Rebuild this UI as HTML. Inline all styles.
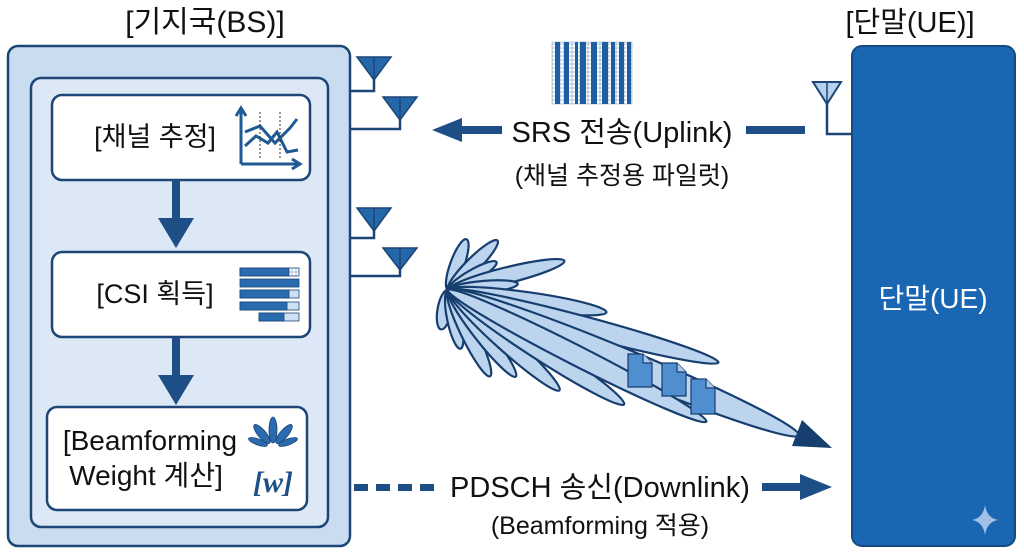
<!DOCTYPE html>
<html><head><meta charset="utf-8"><style>
html,body{margin:0;padding:0;background:#fff;}
svg{display:block;}
text{font-family:"Liberation Sans","Noto Sans CJK KR",sans-serif;fill:#111;}
</style></head><body>
<svg width="1024" height="559" viewBox="0 0 1024 559" xmlns="http://www.w3.org/2000/svg">
<defs>
<pattern id="grid" width="4" height="4" patternUnits="userSpaceOnUse"><rect width="4" height="4" fill="none" stroke="#7a9cc6" stroke-width="0.6"/></pattern>
</defs>
<text x="205" y="32" font-size="30" text-anchor="middle">[기지국(BS)]</text>
<text x="910" y="32" font-size="29" text-anchor="middle">[단말(UE)]</text>
<rect x="8" y="46" width="342" height="500" rx="10" fill="#c9dcf0" stroke="#1d4577" stroke-width="2.5"/>
<rect x="31" y="78" width="297" height="449" rx="10" fill="#dce8f5" stroke="#1d4577" stroke-width="2.5"/>
<rect x="52" y="95" width="258" height="85" rx="10" fill="#fff" stroke="#1d4577" stroke-width="2.5"/>
<text x="155" y="146" font-size="27" text-anchor="middle">[채널 추정]</text>
<g stroke="#1f5a95" stroke-width="3" fill="none">
<path d="M241 164 V110 M236 116 L241 108 L246 116"/>
<path d="M241 164 H298 M292 159 L300 164 L292 169"/>
<path d="M245 132 L260 126 L275 143 L290 128 L297 119"/>
<path d="M245 146 L256 136 L268 143 L277 132 L287 152 L298 150"/>
<path d="M260 112 V160 M280 112 V160" stroke-width="1" stroke-dasharray="2 2" stroke="#333"/>
</g>
<rect x="172" y="180" width="8" height="42" fill="#1d4f86"/>
<polygon points="158,218 194,218 176,248" fill="#1d4f86"/>
<rect x="52" y="252" width="258" height="85" rx="10" fill="#fff" stroke="#1d4577" stroke-width="2.5"/>
<text x="155" y="303" font-size="27" text-anchor="middle">[CSI 획득]</text>
<g stroke="#1d4577" stroke-width="0.8">
<rect x="240" y="268" width="59" height="8" fill="url(#grid)"/>
<rect x="240" y="268" width="49" height="8" fill="#2a6bb0"/>
<rect x="240" y="279" width="59" height="8" fill="#2a6bb0"/>
<rect x="240" y="290" width="59" height="8" fill="#cfe0f2"/>
<rect x="240" y="290" width="49" height="8" fill="#2a6bb0"/>
<rect x="240" y="302" width="59" height="8" fill="#cfe0f2"/>
<rect x="240" y="302" width="47" height="8" fill="#2a6bb0"/>
<rect x="259" y="313" width="40" height="8" fill="#cfe0f2"/>
<rect x="259" y="313" width="25" height="8" fill="#2a6bb0"/>
</g>
<rect x="172" y="337" width="8" height="42" fill="#1d4f86"/>
<polygon points="158,375 194,375 176,405" fill="#1d4f86"/>
<rect x="47" y="407" width="260" height="103" rx="10" fill="#fff" stroke="#1d4577" stroke-width="2.5"/>
<text x="150" y="450" font-size="28" text-anchor="middle">[Beamforming</text>
<text x="146" y="485" font-size="28" text-anchor="middle">Weight 계산]</text>
<g fill="#2a6bb0" stroke="#1d4577" stroke-width="0.8">
<ellipse cx="273" cy="430" rx="4" ry="13"/>
<ellipse cx="262" cy="434" rx="4" ry="12" transform="rotate(-40 262 434)"/>
<ellipse cx="284" cy="434" rx="4" ry="12" transform="rotate(40 284 434)"/>
<ellipse cx="258" cy="442" rx="3" ry="10" transform="rotate(-70 258 442)"/>
<ellipse cx="288" cy="442" rx="3" ry="10" transform="rotate(70 288 442)"/>
</g>
<text x="273" y="492" font-size="30" text-anchor="middle" font-style="italic" font-weight="bold" style="fill:#1d4f86;font-family:'Liberation Serif',serif">[w]</text>
<g stroke="#1d4577" stroke-width="2.5" fill="none">
<path d="M350 91 H374 V74 M350 129 H400 V112"/>
<path d="M350 238 H374 V224 M350 276 H400 V262"/>
</g>
<g fill="#2468aa" stroke="#1d4577" stroke-width="1.5">
<polygon points="357,57 391,57 374,80"/><line x1="374" y1="57" x2="374" y2="80"/>
<polygon points="383,97 417,97 400,120"/><line x1="400" y1="97" x2="400" y2="120"/>
<polygon points="357,208 391,208 374,231"/><line x1="374" y1="208" x2="374" y2="231"/>
<polygon points="383,248 417,248 400,270"/><line x1="400" y1="248" x2="400" y2="270"/>
</g>
<rect x="552" y="42" width="80" height="62" fill="url(#grid)" stroke="#7a9cc6" stroke-width="0.5"/>
<g fill="#1f5fa0">
<rect x="555" y="42" width="5" height="62"/><rect x="564" y="42" width="5" height="62"/>
<rect x="575" y="42" width="3" height="62"/>
<rect x="580" y="42" width="6" height="62"/><rect x="591" y="42" width="6" height="62"/>
<rect x="602" y="42" width="6" height="62"/><rect x="611" y="42" width="4" height="62"/>
<rect x="619" y="42" width="5" height="62"/><rect x="627" y="42" width="4" height="62"/>
</g>
<polygon points="432,130 462,118 462,142" fill="#1d4f86"/>
<rect x="460" y="126" width="42" height="8" fill="#1d4f86"/>
<text x="622" y="142" font-size="29" text-anchor="middle">SRS 전송(Uplink)</text>
<text x="622" y="184" font-size="25" text-anchor="middle">(채널 추정용 파일럿)</text>
<rect x="746" y="126" width="59" height="8" fill="#1d4f86"/>
<path d="M827 102 V134 H852" stroke="#1d4577" stroke-width="2.5" fill="none"/>
<polygon points="813,82 841,82 827,104" fill="#b7d1ec" stroke="#1d4577" stroke-width="2"/>
<line x1="827" y1="82" x2="827" y2="104" stroke="#1d4577" stroke-width="1.5"/>
<rect x="852" y="46" width="163" height="500" rx="10" fill="#1a66b3" stroke="#154a80" stroke-width="2"/>
<text x="933" y="308" font-size="28" text-anchor="middle" style="fill:#fff">단말(UE)</text>
<path d="M985 505 Q987 518 998 520 Q987 522 985 535 Q983 522 972 520 Q983 518 985 505Z" fill="#b8d0ee" opacity="0.85"/>
<g fill="#bcd4ee" stroke="#163e6e" stroke-width="2.2">
<g transform="translate(448,290)">
<ellipse cx="27" cy="0" rx="27" ry="7" transform="rotate(-70)"/>
<ellipse cx="35" cy="0" rx="35" ry="7" transform="rotate(-45)"/>
<ellipse cx="28" cy="0" rx="28" ry="6" transform="rotate(-30)"/>
<ellipse cx="60" cy="0" rx="60" ry="8" transform="rotate(-14)"/>
<ellipse cx="35" cy="0" rx="35" ry="6" transform="rotate(-5)"/>
<ellipse cx="80" cy="0" rx="80" ry="9" transform="rotate(8)"/>
<ellipse cx="20" cy="0" rx="20" ry="7" transform="rotate(100)"/>
<ellipse cx="30" cy="0" rx="30" ry="7" transform="rotate(78)"/>
<ellipse cx="48" cy="0" rx="48" ry="8" transform="rotate(64)"/>
<ellipse cx="55" cy="0" rx="55" ry="8" transform="rotate(52)"/>
<ellipse cx="75" cy="0" rx="75" ry="9" transform="rotate(42)"/>
<ellipse cx="105" cy="0" rx="105" ry="10" transform="rotate(33)"/>
<ellipse cx="140" cy="0" rx="140" ry="10" transform="rotate(15)"/>
<ellipse cx="190" cy="0" rx="190" ry="14" transform="rotate(22.5)"/>
<ellipse cx="145" cy="0" rx="145" ry="10" transform="rotate(27)"/>
</g>
</g>
<polygon points="832,448 802,420 792,446" fill="#163e6e"/>
<g fill="#4f8fcf" stroke="#163e6e" stroke-width="1.2">
<path d="M628 354 H643 L652 363 V387 H628Z"/><path d="M643 354 V363 H652" fill="#a9c8ea"/>
<path d="M662 363 H677 L686 372 V396 H662Z"/><path d="M677 363 V372 H686" fill="#a9c8ea"/>
<path d="M691 379 H706 L715 388 V414 H691Z"/><path d="M706 379 V388 H715" fill="#a9c8ea"/>
</g>
<g fill="#1d4f86">
<rect x="354" y="484" width="14" height="7"/><rect x="376" y="484" width="14" height="7"/><rect x="398" y="484" width="14" height="7"/><rect x="420" y="484" width="14" height="7"/>
<rect x="762" y="483" width="42" height="8"/>
<polygon points="832,487 800,474 800,500"/>
</g>
<text x="600" y="497" font-size="29" text-anchor="middle">PDSCH 송신(Downlink)</text>
<text x="600" y="534" font-size="25" text-anchor="middle">(Beamforming 적용)</text>
</svg>
</body></html>
